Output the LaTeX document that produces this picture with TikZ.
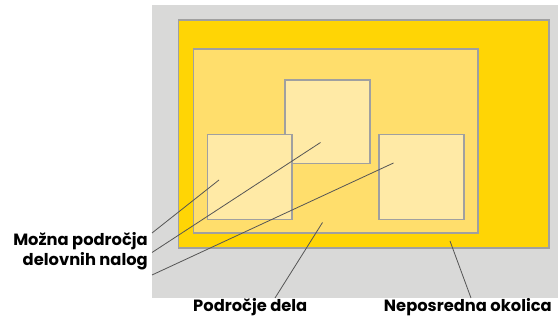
\documentclass[tikz,border=0pt]{standalone}
\usepackage{fontspec}
\setmainfont{Poppins}
\definecolor{bggray}{HTML}{D9D9D8}
\definecolor{zoneA}{HTML}{FFD505}
\definecolor{zoneB}{HTML}{FFDE6C}
\definecolor{zoneC}{HTML}{FFEAA6}
\definecolor{edgegray}{HTML}{A0A0A0}
\definecolor{leader}{HTML}{555555}
\tikzset{
  area/.style={draw=edgegray, line width=1.7pt},
  lead/.style={draw=leader, line width=0.8pt},
  lbl/.style={font=\bfseries\fontsize{16.3}{18}\selectfont, inner sep=0pt, text=black}
}
\begin{document}
\begin{tikzpicture}[x=1pt,y=-1pt]
\useasboundingbox (0,0) rectangle (558,320);
% surroundings
\fill[bggray] (152,5) rectangle (558,298);
% nested work areas
\path[area, fill=zoneA] (178.5,20) rectangle (549,248);
\path[area, fill=zoneB] (193.5,49) rectangle (478,233);
\path[area, fill=zoneC] (285,80) rectangle (370,163.5);
\path[area, fill=zoneC] (207.5,134.5) rectangle (292,219.5);
\path[area, fill=zoneC] (379,134.5) rectangle (464,219.5);
% leader anchor points
\coordinate (pL) at (219,180);
\coordinate (pT) at (320.5,142.5);
\coordinate (pR) at (393.5,163);
\coordinate (pD) at (322.5,222.5);
\coordinate (pN) at (450,241);
\coordinate (eL) at (152,233);
\coordinate (eT) at (152,252.5);
\coordinate (eR) at (152,275);
\coordinate (eD) at (275,298);
\coordinate (eN) at (471,298);
% labels
\node[lbl, anchor=east] (mozna) at (148,241) {Možna področja};
\node[lbl, anchor=east] (delovne) at (148,261) {delovnih nalog};
\node[lbl, anchor=west] (podrocje) at (193,307) {Področje dela};
\node[lbl, anchor=east] (okolica) at (552,307) {Neposredna okolica};
% leaders
\draw[lead] (pL) -- (eL);
\draw[lead] (pT) -- (eT);
\draw[lead] (pR) -- (eR);
\draw[lead] (pD) -- (eD);
\draw[lead] (pN) -- (eN);
\end{tikzpicture}
\end{document}
